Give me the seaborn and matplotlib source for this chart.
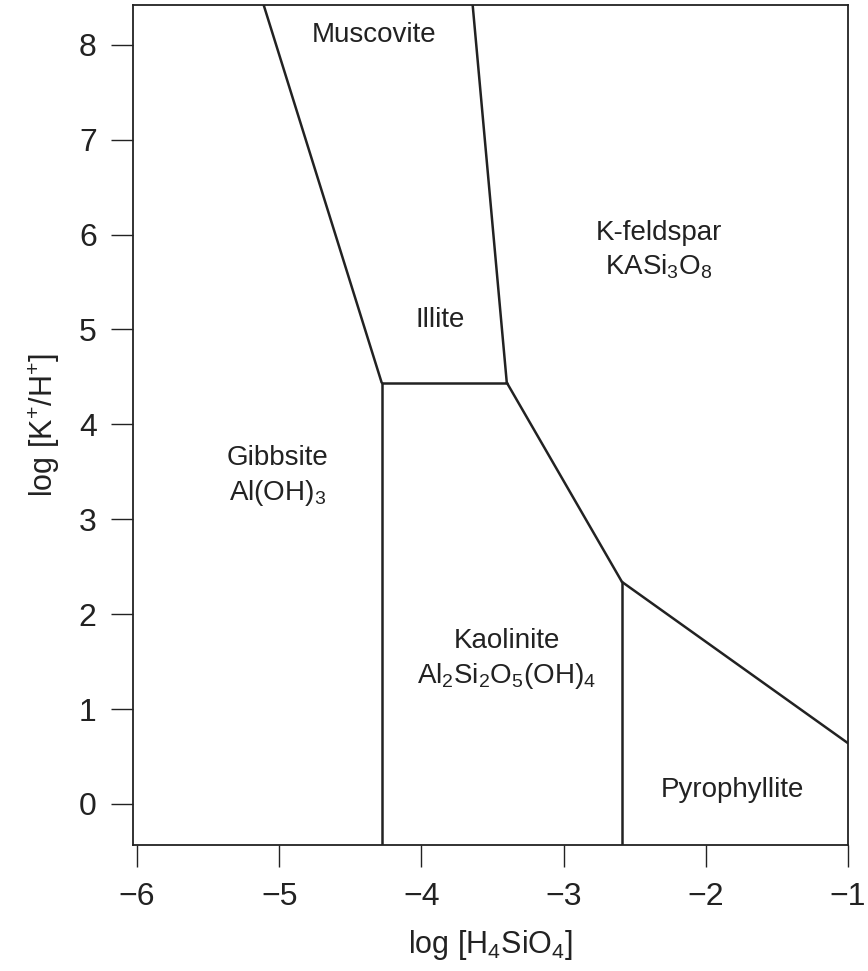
import matplotlib
matplotlib.use("Agg")
import matplotlib.pyplot as plt
import seaborn as sns
import pandas as pd

# Boundary lines of the stability diagram (x = log[H4SiO4], y = log[K+/H+])
boundary_ids = ["gib_mus", "gib_mus", "gib_kao", "gib_kao", "ill_kao", "ill_kao",
                "mus_kfs", "mus_kfs", "kao_kfs", "kao_kfs", "kao_pyr", "kao_pyr",
                "pyr_kfs", "pyr_kfs"]
boundary_x = [-5.11, -4.28, -4.28, -4.28, -4.28, -3.40,
              -3.64, -3.40, -3.40, -2.59, -2.59, -2.59,
              -2.59, -1.00]
boundary_y = [8.42, 4.44, 4.44, -0.43, 4.44, 4.44,
              8.42, 4.44, 4.44, 2.34, 2.34, -0.43,
              2.34, 0.64]

# Field labels
field_labels = ["Muscovite", "K-feldspar\nKASi$_3$O$_8$", "Illite",
                "Gibbsite\nAl(OH)$_3$", "Kaolinite\nAl$_2$Si$_2$O$_5$(OH)$_4$", "Pyrophyllite"]
field_x = [-4.33, -2.33, -3.87, -5.01, -3.40, -1.81]
field_y = [8.10, 5.83, 5.10, 3.45, 1.52, 0.15]

x_ticks = [-6, -5, -4, -3, -2, -1]
y_ticks = [0, 1, 2, 3, 4, 5, 6, 7, 8]

sns.set_style("ticks")
plt.rcParams["font.family"] = ["Liberation Sans", "DejaVu Sans"]
plt.rcParams["mathtext.fontset"] = "custom"
plt.rcParams["mathtext.rm"] = "Liberation Sans"
plt.rcParams["mathtext.it"] = "Liberation Sans:italic"
plt.rcParams["mathtext.bf"] = "Liberation Sans:bold"

df = pd.DataFrame({"boundary": boundary_ids, "x": boundary_x, "y": boundary_y})

fig = plt.figure(figsize=(8.68, 9.71), dpi=100)
ax = fig.add_axes([0.153, 0.130, 0.824, 0.865])

sns.lineplot(data=df, x="x", y="y", units="boundary", estimator=None, sort=False,
             color="#222222", linewidth=1.8, ax=ax, legend=False)

for lab, xx, yy in zip(field_labels, field_x, field_y):
    ax.text(xx, yy, lab, ha="center", va="center", fontsize=20, color="#222222",
            linespacing=1.3)

ax.set_xlim(-6.03, -1.0)
ax.set_ylim(-0.43, 8.42)
ax.set_xticks(x_ticks)
ax.set_yticks(y_ticks)
ax.tick_params(axis="both", direction="out", length=16, width=1.0, labelsize=23,
               colors="#222222")
ax.tick_params(axis="x", pad=11)
ax.tick_params(axis="y", pad=10)
for s in ax.spines.values():
    s.set_linewidth(1.3)
    s.set_color("#222222")
ax.set_xlabel("log [H$_4$SiO$_4$]", fontsize=22, labelpad=11, color="#222222")
ax.set_ylabel("log [K$^{+}$/H$^{+}$]", fontsize=22, labelpad=12, color="#222222")

fig.savefig("out.png", dpi=100)
